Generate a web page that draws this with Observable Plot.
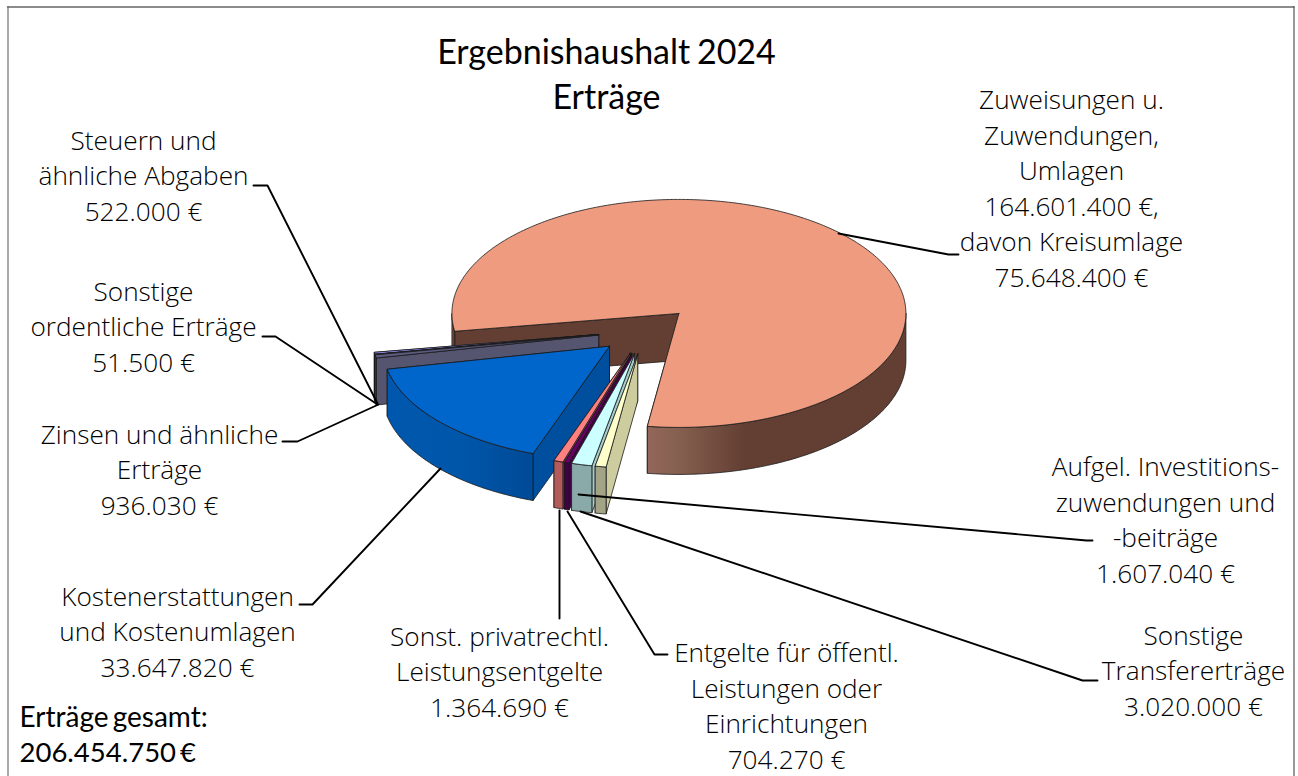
<!DOCTYPE html>
<html><head><meta charset="utf-8">
<script src="https://cdn.jsdelivr.net/npm/d3@7"></script>
<script src="https://cdn.jsdelivr.net/npm/@observablehq/plot@0.6"></script>
<style>html,body{margin:0;padding:0;background:#fff}svg{display:block}</style>
</head><body><div id="chart"></div>
<script>
// ---- data (clockwise from the first slice angle)
const categories = [
  "Aufgel. Investitions-\nzuwendungen und\n-beiträge",
  "Sonstige\nTransfererträge",
  "Entgelte für öffentl.\nLeistungen oder\nEinrichtungen",
  "Sonst. privatrechtl.\nLeistungsentgelte",
  "Kostenerstattungen\nund Kostenumlagen",
  "Zinsen und ähnliche\nErträge",
  "Sonstige\nordentliche Erträge",
  "Steuern und\nähnliche Abgaben",
  "Zuweisungen u.\nZuwendungen,\nUmlagen"
];
const values = [1607040, 3020000, 704270, 1364690, 33647820, 936030, 51500, 522000, 164601400];
const kreisumlage = 75648400;
const total = 206454750;
const titleLines = "Ergebnishaushalt 2024\nErträge";
const totalLabel = "Erträge gesamt:";

// ---- styles: top face, outer wall, cut wall
const topColors  = ["#FFFFCC","#CCFFFF","#660066","#FF8080","#0066CC","#5B5B80","#CCCCFF","#9999FF","#EE9B80"];
const rimColors  = ["#A3A385","#8AA9A9","#440044","#B35A5A","url(#gBlue)","#55556F","#55556F","#55556F","url(#gMain)"];
const cutColors  = ["#CCCC9E","#A3CCCC","#440044","#B35A5A","#004E9E","#55556F","#55556F","#55556F","#623E33"];

// ---- layout options
const W = 1298, H = 776;
const cx = 645.0, cy = 330, rx = 227, ry = 114, depth = 47, explode = 0.21, firstAngle = 188;
const fmt = v => new Intl.NumberFormat("de-DE").format(v) + " €";

const labelPos = [
  {x:1165, y:520}, {x:1193, y:671}, {x:786, y:706}, {x:499, y:672}, {x:177, y:632},
  {x:159, y:470}, {x:143, y:327}, {x:143, y:176}, {x:1071, y:188.5}
];
const leaders = [
  [[578,494],[1086,540],[1092,540]],
  [[580,511],[1082,680],[1097,680]],
  [[567,511],[654,654],[667,654]],
  [[559,510],[559,618]],
  [[440,468],[312,604],[299,604]],
  [[378,404],[297,441],[282,441]],
  [[377,404],[275,336],[262,336]],
  [[377,403],[267,185],[253,185]],
  [[838,233],[948,254],[958,254]]
];

// ---- geometry computed from the values
const sum = d3.sum(values);
let a = firstAngle;
const slices = values.map((v, i) => {
  const a0 = a, a1 = a + v / sum * 360; a = a1;
  const mid = (a0 + a1) / 2 * Math.PI / 180;
  return {i, a0, a1, ox: cx + Math.sin(mid) * rx * explode, oy: cy - Math.cos(mid) * ry * explode};
});
const pt = (s, deg, dz = 0) => {
  const t = deg * Math.PI / 180;
  return {x: s.ox + Math.sin(t) * rx, y: s.oy - Math.cos(t) * ry + dz};
};
const arc = (s, from, to, dz = 0) => {
  const n = Math.max(2, Math.ceil(Math.abs(to - from)));
  return d3.range(n + 1).map(k => pt(s, from + (to - from) * k / n, dz));
};
const edge = {stroke: "#1a1a1a", strokeWidth: 0.8, strokeLinejoin: "round"};
const poly = (pts, fill) => Plot.line([...pts, pts[0]], {x: "x", y: "y", fill, ...edge});
const apex = (s, dz = 0) => ({x: s.ox, y: s.oy + dz});

function sliceMarks(s) {
  const marks = [];
  for (const e of [s.a1, s.a0]) {
    marks.push(poly([apex(s), pt(s, e), pt(s, e, depth), apex(s, depth)], cutColors[s.i]));
  }
  for (const [lo, hi] of [[90, 270], [450, 630]]) {
    const from = Math.max(lo, s.a0), to = Math.min(hi, s.a1);
    if (to > from) marks.push(poly([...arc(s, from, to), ...arc(s, to, from, depth)], rimColors[s.i]));
  }
  marks.push(poly([apex(s), ...arc(s, s.a0, s.a1)], topColors[s.i]));
  return marks;
}
const paintOrder = [8, 7, 6, 5, 4, 3, 2, 1, 0];

const defs = () => {
  const d = d3.create("svg:defs");
  const grad = (id, stops) => {
    const g = d.append("linearGradient").attr("id", id).attr("x1", 0).attr("x2", 1).attr("y1", 0).attr("y2", 0);
    stops.forEach(([o, c]) => g.append("stop").attr("offset", o).attr("stop-color", c));
  };
  grad("gMain", [[0, "#93675A"], [0.12, "#85604F"], [0.38, "#623E33"], [1, "#623E33"]]);
  grad("gBlue", [[0, "#0058AE"], [0.5, "#0056A9"], [1, "#004A97"]]);
  return d.node();
};

const texts = categories.map((c, i) => {
  let t = c + "\n" + fmt(values[i]);
  if (i === 8) t = c + "\n" + fmt(values[i]) + ",\ndavon Kreisumlage\n" + fmt(kreisumlage);
  return {t, ...labelPos[i]};
});
const leaderPts = leaders.flatMap((l, i) => l.map(([x, y]) => ({x, y, i})));

const chart = Plot.plot({
  width: W, height: H, margin: 0,
  x: {domain: [0, W], range: [0, W], axis: null},
  y: {domain: [0, H], range: [0, H], axis: null},
  style: {fontFamily: "Lato, sans-serif", background: "#fff"},
  marks: [
    defs,
    Plot.line([{x:7.5,y:H+2},{x:7.5,y:6.5}], {x:"x", y:"y", stroke:"#aaa", strokeWidth:2}),
    Plot.line([{x:7,y:6.5},{x:1293.5,y:6.5}], {x:"x", y:"y", stroke:"#666", strokeWidth:1.3}),
    Plot.line([{x:1293.5,y:6},{x:1293.5,y:H+2}], {x:"x", y:"y", stroke:"#555", strokeWidth:1.2}),
    ...paintOrder.flatMap(i => sliceMarks(slices[i])),
    Plot.line(leaderPts, {x:"x", y:"y", z:"i", stroke:"#000", strokeWidth:1.9}),
    Plot.text(texts, {x:"x", y:d=>d.y-2.5, text:"t", fontFamily:"'Open Sans', sans-serif", fontSize:26.2, fontWeight:300, lineHeight:35.5/26.2, fill:"#000", textAnchor:"middle"}),
    Plot.text([titleLines], {x:606, y:71.5, fontSize:34, letterSpacing:-0.4, lineHeight:45/34, fontWeight:400, fill:"#000", textAnchor:"middle"}),
    Plot.text([totalLabel], {x:19, y:717.5, fontSize:28, letterSpacing:-0.6, fontWeight:400, fill:"#000", textAnchor:"start"}),
    Plot.text([fmt(total)], {x:19, y:752.5, fontSize:27.5, letterSpacing:-1, fontWeight:400, fill:"#000", textAnchor:"start"})
  ]
});
d3.select(chart).selectAll("text").each(function() {
  const s = this.textContent;
  if (s.includes("gesamt")) this.style.wordSpacing = "-3px";
  if (s.includes("206")) this.style.wordSpacing = "-3px";
  if (s.includes("Ergebnis")) this.style.wordSpacing = "-2px";
});
document.getElementById("chart").append(chart);
</script></body></html>
